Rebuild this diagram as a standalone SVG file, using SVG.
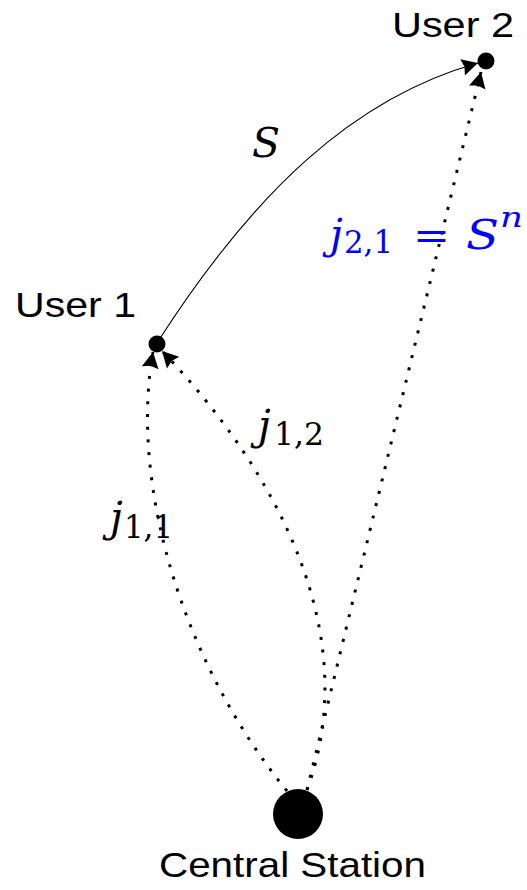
<svg xmlns="http://www.w3.org/2000/svg" width="527" height="890" viewBox="0 0 527 890">
<style>
.lbl{font-family:"Liberation Sans",Arial,sans-serif;font-size:35px;fill:#000}
.mi{font-family:"DejaVu Serif",serif;font-style:italic;font-size:41px}
.mr{font-family:"DejaVu Serif",serif;font-size:31px}
.sup{font-family:"DejaVu Serif",serif;font-style:italic;font-size:28px}
.solid{fill:none;stroke:#000;stroke-width:1.1}
.dot{fill:none;stroke:#000;stroke-width:3;stroke-dasharray:3 9.7}
.blue{fill:#0000ff}
.blk{fill:#000}
</style>
<defs>
<marker id="ah" markerUnits="userSpaceOnUse" markerWidth="24" markerHeight="24" viewBox="-4 -12 24 24" refX="16" refY="0" orient="auto">
<path d="M16,0 L0,-8.5 L2,0 L0,8.5 Z" fill="#000"/>
</marker>
</defs>
<g id="connectors">
<path class="solid" d="M157,343 C253,193 353,98 478,63" marker-end="url(#ah)"/>
<path class="dot" d="M287,791 C180,660 130,480 153,352" marker-end="url(#ah)"/>
<path class="dot" d="M307,790 C368,623 262,455 162,351" marker-end="url(#ah)"/>
<path class="dot" d="M307,790 L481,72" marker-end="url(#ah)"/>
</g>
<g id="user1">
<circle cx="157" cy="344" r="8.5" fill="#000"/>
<text class="lbl" x="15" y="317" textLength="121" lengthAdjust="spacingAndGlyphs">User 1</text>
</g>
<g id="user2">
<circle cx="486" cy="61" r="8.5" fill="#000"/>
<text class="lbl" x="392" y="37" textLength="122" lengthAdjust="spacingAndGlyphs">User 2</text>
</g>
<g id="central-station">
<circle cx="298" cy="814" r="25" fill="#000"/>
<text class="lbl" x="159" y="877" textLength="267" lengthAdjust="spacingAndGlyphs">Central Station</text>
</g>
<g id="labels">
<text class="mi blk" x="252" y="157" textLength="28" lengthAdjust="spacingAndGlyphs">S</text>
<text class="mi blk" x="110" y="531">j</text>
<text class="mr blk" x="124" y="538" textLength="49" lengthAdjust="spacingAndGlyphs">1,1</text>
<text class="mi blk" x="258" y="439">j</text>
<text class="mr blk" x="274" y="445" textLength="50" lengthAdjust="spacingAndGlyphs">1,2</text>
<text class="mi blue" x="330" y="248">j</text>
<text class="mr blue" x="344" y="253" textLength="49" lengthAdjust="spacingAndGlyphs">2,1</text>
<text class="mr blue" x="413" y="249" style="font-size:39px" textLength="37" lengthAdjust="spacingAndGlyphs">=</text>
<text class="mi blue" x="466" y="249" textLength="33" lengthAdjust="spacingAndGlyphs">S</text>
<text class="sup blue" x="500" y="227" textLength="23" lengthAdjust="spacingAndGlyphs">n</text>
</g>
</svg>
